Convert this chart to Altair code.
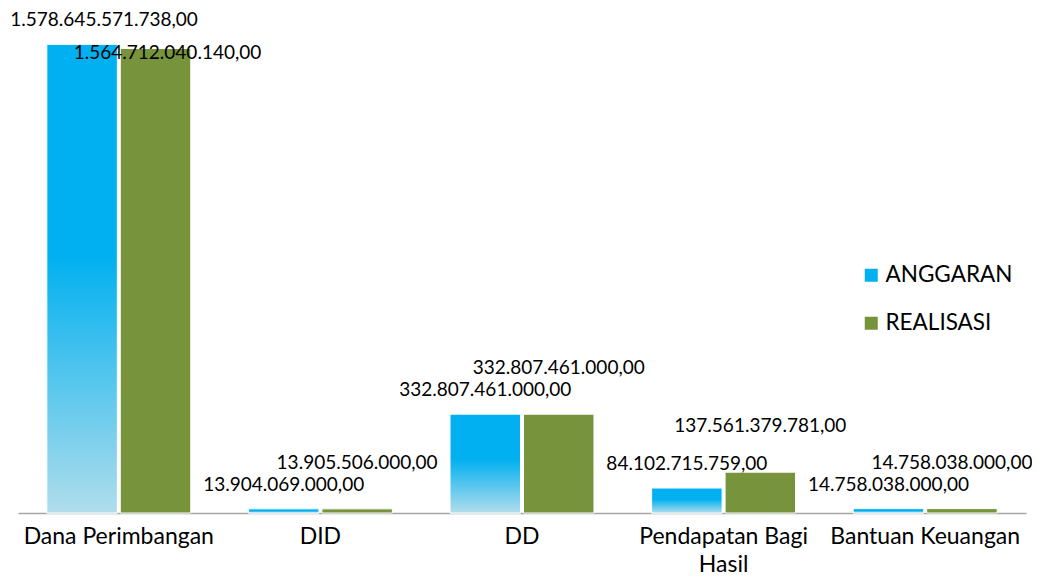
import altair as alt
import pandas as pd

categories = ["Dana Perimbangan", "DID", "DD", "Pendapatan Bagi Hasil", "Bantuan Keuangan"]
series_names = ["ANGGARAN", "REALISASI"]
anggaran = [1578645571738, 13904069000, 332807461000, 84102715759, 14758038000]
realisasi = [1564712040140, 13905506000, 332807461000, 137561379781, 14758038000]


def fmt_id(v):
    s = f"{v:,.2f}"
    return s.replace(",", "_").replace(".", ",").replace("_", ".")


rows = []
for c, a, r in zip(categories, anggaran, realisasi):
    rows.append({"category": c, "series": "ANGGARAN", "value": a, "label": fmt_id(a)})
    rows.append({"category": c, "series": "REALISASI", "value": r, "label": fmt_id(r)})
df = pd.DataFrame(rows)

BLUE = "#00B0F0"
LIGHT = "#B0DDEB"
GREEN = "#77933C"
PLOT_W, PLOT_H = 1008, 475
YMAX = 1.6e12
UNIT = YMAX / PLOT_H
CAP_R = 414 * UNIT

x = alt.X(
    "category:N", sort=categories,
    scale=alt.Scale(paddingInner=0.286, paddingOuter=0.143),
    axis=alt.Axis(
        title=None, labelFont="Lato", labelFontSize=23, labelColor="#000000",
        labelBaseline="alphabetic", labelPadding=30, labelLineHeight=28,
        ticks=False, labelAngle=0,
        domainColor="#A6A6A6", domainWidth=1.5, labelLimit=400,
        labelExpr="datum.label == 'Pendapatan Bagi Hasil' ? ['Pendapatan Bagi', 'Hasil'] : datum.label",
    ),
)
xoff = alt.XOffset("series:N", sort=series_names,
                   scale=alt.Scale(domain=series_names, paddingInner=0.04))
y = alt.Y("value:Q", scale=alt.Scale(domain=[0, YMAX]), axis=None)

base = alt.Chart(df)

bars = base.mark_bar(stroke="white", strokeWidth=1).encode(
    x=x, xOffset=xoff, y=y,
    color=alt.Color(
        "series:N", sort=series_names,
        scale=alt.Scale(domain=series_names, range=[BLUE, GREEN]),
        legend=alt.Legend(
            title=None, orient="none", legendX=842, legendY=226,
            symbolType="square", symbolSize=169, symbolStrokeWidth=0,
            labelFont="Lato", labelFontSize=22.5, labelColor="#000000",
            rowPadding=25, labelOffset=3, padding=0,
        ),
    ),
)

grad = base.transform_filter("datum.series == 'ANGGARAN'").mark_bar(
    fill=alt.Gradient(
        gradient="linear", x1=0, y1=0, x2=0, y2=1,
        stops=[
            alt.GradientStop(color=BLUE, offset=0),
            alt.GradientStop(color=BLUE, offset=0.45),
            alt.GradientStop(color=LIGHT, offset=1),
        ],
    ),
    stroke="white", strokeWidth=1,
).encode(x=x, xOffset=xoff, y=y)

lab_a = base.transform_filter("datum.series == 'ANGGARAN'").mark_text(
    font="Lato", fontSize=19, color="#000000", baseline="middle", dy=-24,
    dx=alt.expr("datum.value > 1e12 ? 22 : 0"),
).encode(x=x, xOffset=xoff, y=y, text="label:N")

lab_r = base.transform_filter("datum.series == 'REALISASI'").transform_calculate(
    ly=f"min(datum.value, {CAP_R})"
).mark_text(
    font="Lato", fontSize=19, color="#000000", baseline="middle", dy=-46,
    dx=alt.expr("datum.value > 1e12 ? 12 : (datum.category == 'Bantuan Keuangan' ? -10 : 0)"),
).encode(x=x, xOffset=xoff, y=alt.Y("ly:Q", scale=alt.Scale(domain=[0, YMAX]), axis=None),
         text="label:N")

chart = alt.layer(bars, grad, lab_a, lab_r).properties(
    width=PLOT_W, height=PLOT_H,
    autosize=alt.AutoSizeParams(type="none"),
    padding={"left": 10, "top": 30, "right": 6, "bottom": 64},
).configure_view(stroke=None)

chart.save("out.html", embed_options={"renderer": "svg", "actions": False})
